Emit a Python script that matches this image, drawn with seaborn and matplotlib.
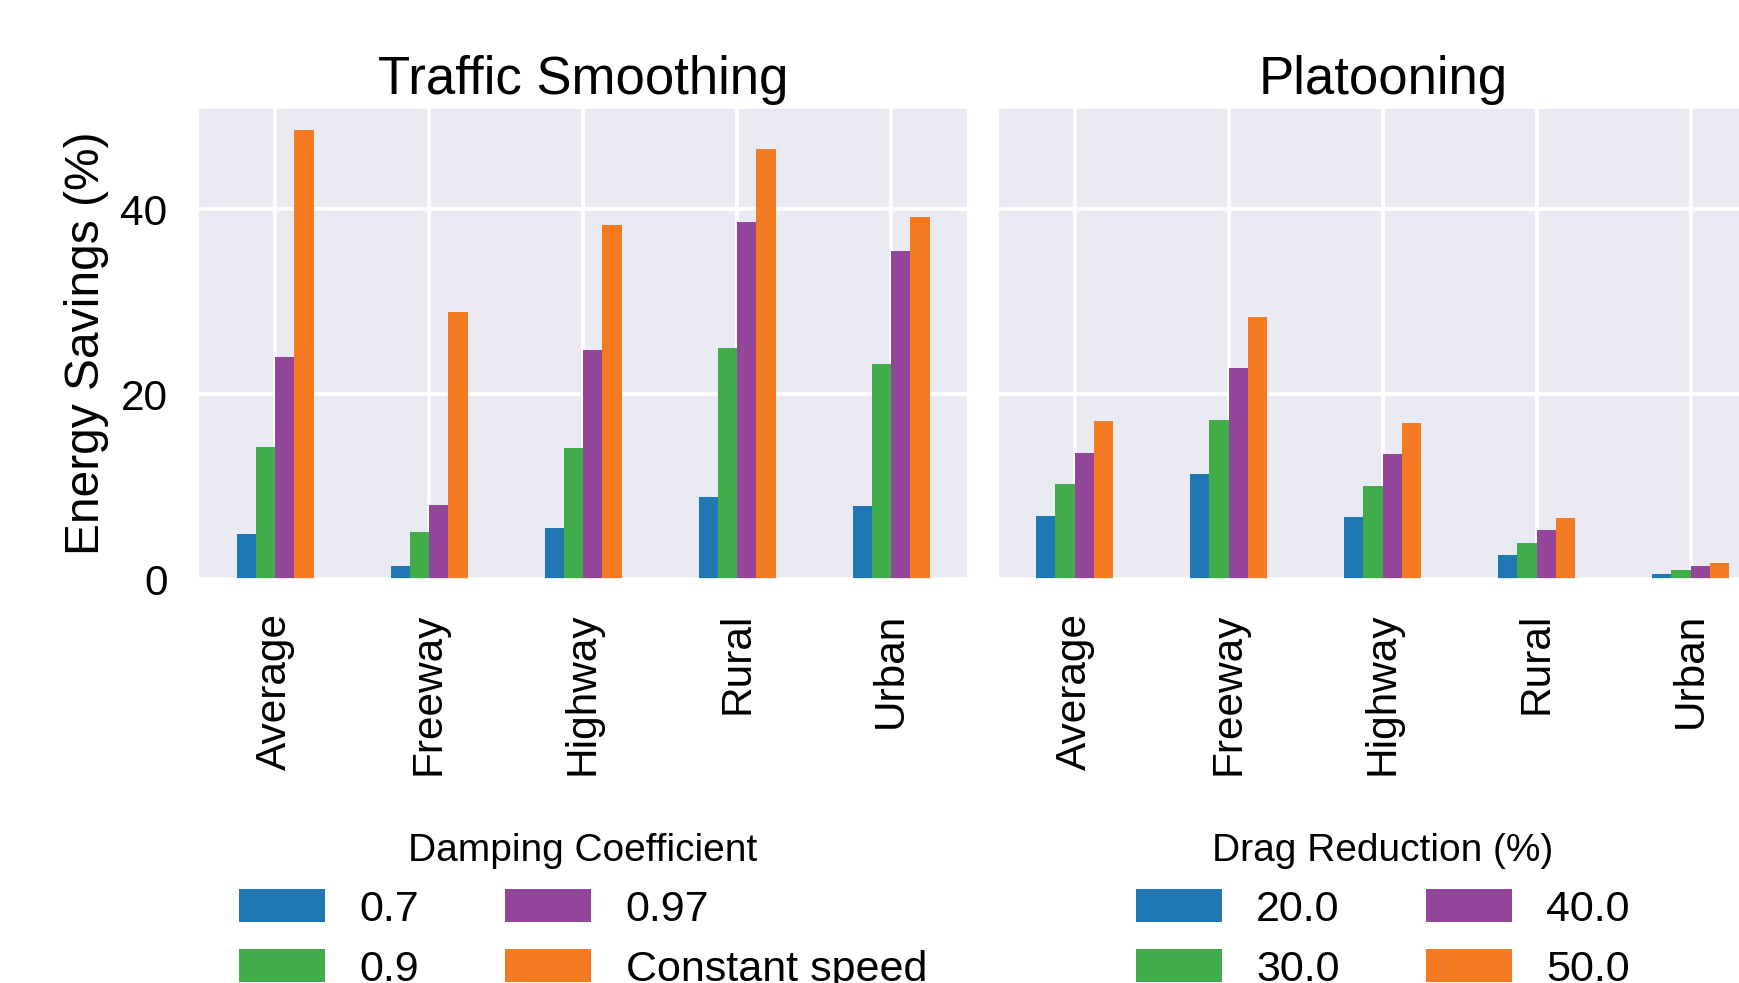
import pandas as pd
import matplotlib
matplotlib.use("Agg")
import matplotlib.pyplot as plt
import seaborn as sns

# road types shown on both panels
roads = ["Average", "Freeway", "Highway", "Rural", "Urban"]

# Traffic smoothing: energy savings (%) per damping coefficient
damping_levels = ["0.7", "0.9", "0.97", "Constant speed"]
smooth_07 = [4.9, 1.4, 5.5, 8.9, 7.9]
smooth_09 = [14.3, 5.1, 14.2, 25.0, 23.3]
smooth_097 = [24.0, 8.0, 24.8, 38.6, 35.5]
smooth_const = [48.6, 28.9, 38.3, 46.5, 39.2]

# Platooning: energy savings (%) per drag reduction
drag_levels = ["20.0", "30.0", "40.0", "50.0"]
platoon_20 = [6.8, 11.4, 6.7, 2.6, 0.6]
platoon_30 = [10.3, 17.2, 10.1, 3.9, 1.0]
platoon_40 = [13.7, 22.8, 13.6, 5.3, 1.4]
platoon_50 = [17.1, 28.4, 16.9, 6.6, 1.8]

colors = ["#1f77b4", "#41ac4a", "#93469a", "#f47b22"]


def to_long(levels, series):
    rows = []
    for lev, vals in zip(levels, series):
        for road, v in zip(roads, vals):
            rows.append({"road": road, "level": lev, "savings": v})
    return pd.DataFrame(rows)


smooth_df = to_long(damping_levels, [smooth_07, smooth_09, smooth_097, smooth_const])
platoon_df = to_long(drag_levels, [platoon_20, platoon_30, platoon_40, platoon_50])

sns.set_theme(style="darkgrid")
plt.rcParams["font.family"] = ["Liberation Sans", "DejaVu Sans"]
plt.rcParams["grid.linewidth"] = 2.8
for key in ["text.color", "axes.labelcolor", "xtick.color", "ytick.color"]:
    plt.rcParams[key] = "black"

W, H = 1740, 983
fig = plt.figure(figsize=(W / 100, H / 100), dpi=100)

ax_l = fig.add_axes([198 / W, 1 - 579.3 / H, 770 / W, 471.7 / H])
ax_r = fig.add_axes([997.7 / W, 1 - 579.3 / H, 770 / W, 471.7 / H], sharey=ax_l)

panels = [
    (ax_l, smooth_df, damping_levels, "Traffic Smoothing", "Damping Coefficient"),
    (ax_r, platoon_df, drag_levels, "Platooning", "Drag Reduction (%)"),
]

for ax, df, levels, title, leg_title in panels:
    sns.barplot(data=df, x="road", y="savings", hue="level", hue_order=levels,
                order=roads, palette=colors, width=0.5, saturation=1,
                errorbar=None, linewidth=0, ax=ax)
    ax.set_xlim(-0.5, 4.5)
    ax.set_title(title, fontsize=38, pad=10)
    ax.set_xlabel("")
    ax.tick_params(axis="x", labelsize=30.5, rotation=90, length=0, pad=24)
    ax.tick_params(axis="y", labelsize=30.5, length=0, pad=22)
    ax.grid(True, axis="both", color="white", linewidth=2.8)
    sns.move_legend(ax, "upper center", bbox_to_anchor=(0.5, -0.502), ncol=2,
                    title=leg_title, frameon=False, fontsize=31,
                    title_fontsize=28, borderaxespad=0, handlelength=2.0,
                    handleheight=0.8, labelspacing=0.46, columnspacing=2.0,
                    handletextpad=0.8)

ax_l.set_ylim(0, 51.0)
ax_l.set_yticks([0, 20, 40])
ax_l.set_ylabel("Energy Savings (%)", fontsize=34.5, labelpad=8)
ax_r.set_ylabel("")
ax_r.tick_params(axis="y", labelleft=False)

fig.savefig("out.png", dpi=100)
